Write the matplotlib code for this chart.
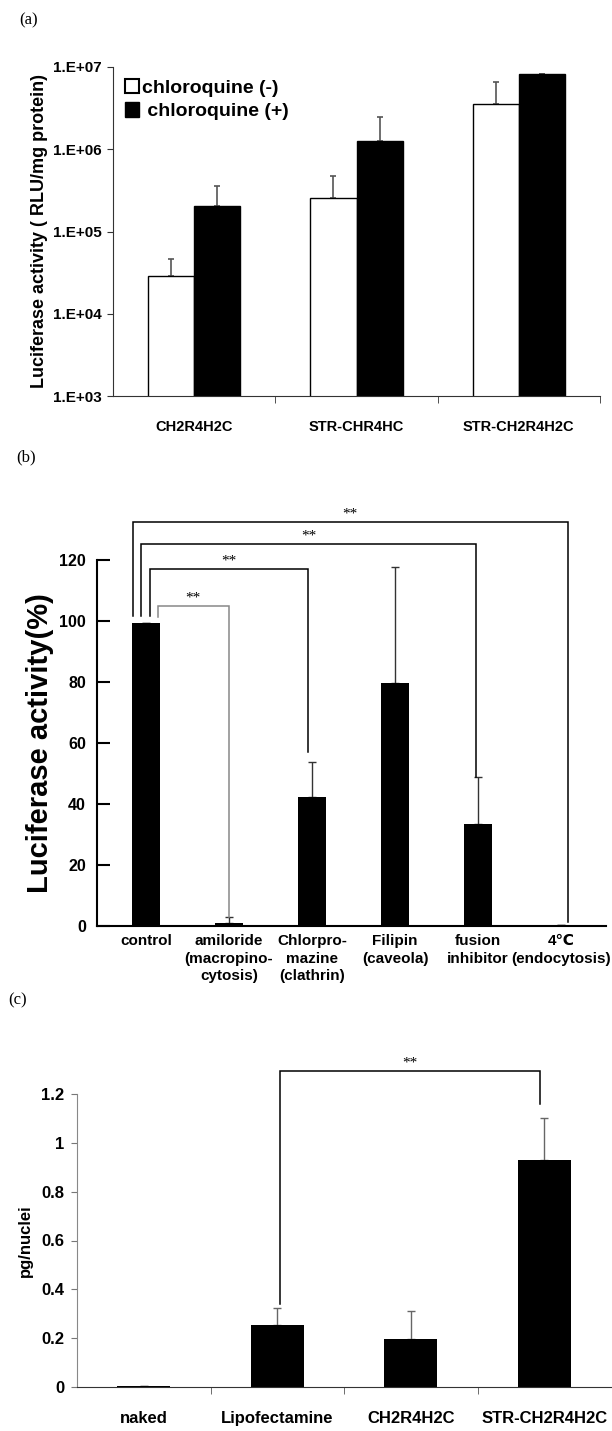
import numpy as np
import matplotlib
matplotlib.use("Agg")
import matplotlib.pyplot as plt
from matplotlib.patches import Patch

plt.rcParams['font.family'] = ['Liberation Sans', 'DejaVu Sans']
plt.rcParams['font.weight'] = 'bold'

# (a) luciferase with / without chloroquine
a_groups = ['CH2R4H2C', 'STR-CHR4HC', 'STR-CH2R4H2C']
a_minus = [2.85e4, 2.58e5, 3.55e6]
a_minus_err = [1.75e4, 2.2e5, 3.1e6]
a_plus = [2.02e5, 1.25e6, 8.15e6]
a_plus_err = [1.6e5, 1.24e6, 1.5e5]
a_ticks = [1e3, 1e4, 1e5, 1e6, 1e7]
a_ticklabels = ['1.E+03', '1.E+04', '1.E+05', '1.E+06', '1.E+07']

# (b) inhibitors
b_labels = ['control', 'amiloride\n(macropino-\ncytosis)', 'Chlorpro-\nmazine\n(clathrin)',
            'Filipin\n(caveola)', 'fusion\ninhibitor', '4\u2103\n(endocytosis)']
b_values = [99.4, 1.0, 42.4, 79.6, 33.4, 0.3]
b_err = [0, 1.9, 11.5, 38.0, 15.6, 0]
# brackets: x1, x2, top, left end, right end
b_brackets = [(-0.16, 5.08, 132.6, 101.6, 1.4),
              (-0.06, 3.98, 125.2, 101.6, 49.0),
              (0.05, 1.95, 117.0, 101.6, 57.0),
              (0.145, 0.995, 105.0, 101.3, 3.0)]

# (c) pg/nuclei
c_labels = ['naked', 'Lipofectamine', 'CH2R4H2C', 'STR-CH2R4H2C']
c_values = [0.003, 0.255, 0.197, 0.928]
c_err = [0, 0.067, 0.114, 0.175]
c_bracket = (1.02, 2.97, 1.295, 0.34, 1.16)

W, H = 612, 1431
fig = plt.figure(figsize=(W / 100, H / 100), dpi=100)


def px_axes(l, t, r, b):
    return fig.add_axes([l / W, 1 - b / H, (r - l) / W, (b - t) / H])


def bracket(ax, x1, x2, top, yl, yr, color='black', lw=1.1):
    ax.plot([x1, x1, x2, x2], [yl, top, top, yr], color=color, lw=lw, clip_on=False,
            solid_joinstyle='miter')
    ax.annotate('**', ((x1 + x2) / 2, top), xytext=(0, 1), textcoords='offset points',
                ha='center', va='bottom', fontsize=11, fontweight='normal',
                family='Liberation Serif', annotation_clip=False)


# ---------- (a)
ax = px_axes(113, 67, 600, 396)
x = np.arange(len(a_groups))
bw = 0.284
ax.bar(x - bw / 2, a_minus, bw, color='white', edgecolor='black', lw=1.0, zorder=2)
ax.bar(x + bw / 2, a_plus, bw, color='black', edgecolor='black', lw=1.0, zorder=2)
ax.errorbar(x - bw / 2, a_minus, yerr=[np.zeros(3), a_minus_err], fmt='none', ecolor='#555555',
            elinewidth=1.2, capsize=2.5, capthick=1.2, zorder=1)
ax.errorbar(x + bw / 2, a_plus, yerr=[np.zeros(3), a_plus_err], fmt='none', ecolor='#555555',
            elinewidth=1.2, capsize=2.5, capthick=1.2, zorder=1)
ax.set_yscale('log')
ax.set_ylim(1e3, 1e7)
ax.set_xlim(-0.5, 2.5)
ax.set_yticks(a_ticks)
ax.set_yticklabels(a_ticklabels, fontsize=11, fontweight='bold')
ax.yaxis.set_minor_locator(matplotlib.ticker.NullLocator())
ax.set_xticks(x)
ax.set_xticklabels(a_groups, fontsize=10.5, fontweight='bold')
ax.set_xticks([0.5, 1.5, 2.5], minor=True)
ax.tick_params(axis='x', which='major', length=0, pad=17)
ax.tick_params(axis='x', which='minor', length=5, direction='out', color='#333333')
ax.tick_params(axis='y', length=4, direction='out', pad=4, color='#333333')
for s in ['top', 'right']:
    ax.spines[s].set_visible(False)
for s in ['left', 'bottom']:
    ax.spines[s].set_color('#333333')
ax.set_ylabel('Luciferase activity ( RLU/mg protein)', fontsize=13, fontweight='bold', labelpad=4)
handles = [Patch(facecolor='white', edgecolor='black', lw=1.5),
           Patch(facecolor='black', edgecolor='black')]
ax.legend(handles, ['chloroquine (-)', ' chloroquine (+)'], loc='upper left',
          bbox_to_anchor=(0.0, 1.0), frameon=False, prop={'weight': 'bold', 'size': 14},
          handlelength=0.75, handleheight=0.75, handletextpad=0.15, labelspacing=0.3,
          borderaxespad=0.2)

# ---------- (b)
ax = px_axes(97, 560, 606, 926)
x = np.arange(len(b_labels))
ax.bar(x, b_values, 0.34, color='black', zorder=2)
ax.errorbar(x, b_values, yerr=[np.zeros(len(x)), b_err], fmt='none', ecolor='#333333',
            elinewidth=1.0, capsize=3, capthick=1.0, zorder=1)
ax.set_xlim(-0.59, 5.54)
ax.set_ylim(0, 120)
ax.set_yticks(np.arange(0, 121, 20))
ax.set_yticklabels([str(v) for v in range(0, 121, 20)], fontsize=11.5, fontweight='bold')
ax.tick_params(axis='y', direction='in', length=9, width=1.5, pad=8)
ax.set_xticks(x)
ax.set_xticklabels(b_labels, fontsize=11, fontweight='bold', linespacing=1.3, va='top')
for lab in ax.get_xticklabels():
    lab.set_family(['Liberation Sans', 'DejaVu Sans'])
ax.tick_params(axis='x', length=0, pad=6)
for s in ['top', 'right']:
    ax.spines[s].set_visible(False)
ax.spines['left'].set_linewidth(1.5)
ax.spines['bottom'].set_linewidth(1.5)
ax.set_ylabel('Luciferase activity(%)', fontsize=21, fontweight='bold', labelpad=4)
for i, (x1, x2, top, yl, yr) in enumerate(b_brackets):
    bracket(ax, x1, x2, top, yl, yr, color='#888888' if i == 3 else 'black')

# ---------- (c)
ax = px_axes(77, 1094, 611, 1387)
x = np.arange(len(c_labels))
ax.bar(x, c_values, 0.4, color='black', zorder=2)
ax.errorbar(x, c_values, yerr=[np.zeros(len(x)), c_err], fmt='none', ecolor='#666666',
            elinewidth=1.0, capsize=3, capthick=1.0, zorder=1)
ax.set_xlim(-0.5, 3.5)
ax.set_ylim(0, 1.2)
ax.set_yticks([0, 0.2, 0.4, 0.6, 0.8, 1.0, 1.2])
ax.set_yticklabels(['0', '0.2', '0.4', '0.6', '0.8', '1', '1.2'], fontsize=12, fontweight='bold')
ax.tick_params(axis='y', direction='out', length=4, color='#777777', pad=5)
ax.set_xticks(x)
ax.set_xticklabels(c_labels, fontsize=12, fontweight='bold')
ax.set_xticks([0.5, 1.5, 2.5], minor=True)
ax.tick_params(axis='x', which='major', length=0, pad=17)
ax.tick_params(axis='x', which='minor', length=5, direction='out', color='#555555')
for s in ['top', 'right']:
    ax.spines[s].set_visible(False)
ax.spines['left'].set_color('#888888')
ax.spines['bottom'].set_color('#333333')
ax.set_ylabel('pg/nuclei', fontsize=12, fontweight='bold', labelpad=6)
bracket(ax, *c_bracket)

# panel letters
for lab, xp, yp in [('(a)', 19, 20), ('(b)', 16, 457), ('(c)', 8, 1000)]:
    fig.text(xp / W, 1 - yp / H, lab, family='Liberation Serif', fontweight='normal',
             fontsize=12, va='center', ha='left')

fig.savefig('out.png', dpi=100)
